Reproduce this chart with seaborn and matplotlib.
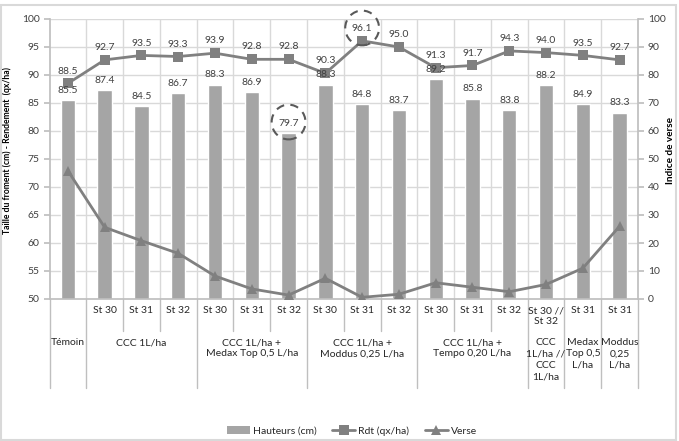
import matplotlib
matplotlib.use("Agg")
import matplotlib.pyplot as plt
from matplotlib.patches import Ellipse, Rectangle, Patch
from matplotlib.lines import Line2D
import numpy as np
import pandas as pd
import seaborn as sns

# === data ===
hauteurs = [85.5, 87.4, 84.5, 86.7, 88.3, 86.9, 79.7, 88.3, 84.8, 83.7, 89.2, 85.8, 83.8, 88.2, 84.9, 83.3]
rdt = [88.5, 92.7, 93.5, 93.3, 93.9, 92.8, 92.8, 90.3, 96.1, 95.0, 91.3, 91.7, 94.3, 94.0, 93.5, 92.7]
verse = [45.8, 25.6, 20.8, 16.3, 8.2, 3.6, 1.4, 7.4, 0.6, 1.7, 5.8, 4.2, 2.6, 5.2, 11.0, 26.0]
stades = ['', 'St 30', 'St 31', 'St 32', 'St 30', 'St 31', 'St 32', 'St 30', 'St 31', 'St 32',
          'St 30', 'St 31', 'St 32', 'St 30 //\nSt 32', 'St 31', 'St 31']
groupes = ['Témoin', 'CCC 1L/ha', 'CCC 1L/ha +\nMedax Top 0,5 L/ha', 'CCC 1L/ha +\nModdus 0,25 L/ha',
           'CCC 1L/ha +\nTempo 0,20 L/ha', 'CCC\n1L/ha //\nCCC\n1L/ha', 'Medax\nTop 0,5\nL/ha', 'Moddus\n0,25\nL/ha']
groupe_taille = [1, 3, 3, 3, 3, 1, 1, 1]
entourer = [(6, 'bar'), (8, 'rdt')]   # labels highlighted with dashed circle

df = pd.DataFrame({'pos': np.arange(len(hauteurs)), 'hauteurs': hauteurs, 'rdt': rdt, 'verse': verse})

sns.set_theme(style="white")
plt.rcParams['font.family'] = ['Lato', 'DejaVu Sans']

fig = plt.figure(figsize=(6.79, 4.41), dpi=100)
ax = fig.add_axes([49.5 / 679, 1 - 299 / 441, (638 - 49.5) / 679, 280 / 441])
ax2 = ax.twinx()

bar_c = '#a5a5a5'
line_c = '#808080'
txt_c = '#404040'
grid_c = '#d9d9d9'

sns.barplot(data=df, x='pos', y='hauteurs', color=bar_c, width=0.39, saturation=1, ax=ax, zorder=2)
sns.lineplot(data=df, x='pos', y='rdt', color=line_c, marker='s', markersize=6.5, markeredgewidth=0,
             linewidth=2, ax=ax, zorder=4)
sns.lineplot(data=df, x='pos', y='verse', color=line_c, marker='^', markersize=7, markeredgewidth=0,
             linewidth=2, ax=ax2, zorder=4)

n = len(hauteurs)
ax.set_xlim(-0.5, n - 0.5)
ax.set_ylim(50, 100)
ax.set_yticks(range(50, 101, 5))
ax2.set_ylim(0, 100)
ax2.set_yticks(range(0, 101, 10))
ax.set_xticks([])
ax2.set_xticks([])
ax.set_xlabel('')

# grid
for yv in range(55, 101, 5):
    ax.axhline(yv, color=grid_c, lw=1, zorder=0)
for xv in np.arange(0.5, n - 0.5, 1):
    ax.axvline(xv, color=grid_c, lw=1, zorder=0)

for a in (ax, ax2):
    for s in a.spines.values():
        s.set_visible(False)
ax.spines['left'].set_visible(True)
ax.spines['left'].set_color('#bfbfbf')
ax.spines['bottom'].set_visible(True)
ax.spines['bottom'].set_color('#bfbfbf')
ax2.spines['right'].set_visible(True)
ax2.spines['right'].set_color('#bfbfbf')
ax.tick_params(axis='y', length=4, color='#bfbfbf', labelsize=7.5, labelcolor=txt_c, pad=3, left=True)
ax2.tick_params(axis='y', length=4, color='#bfbfbf', labelsize=7.5, labelcolor=txt_c, pad=3, right=True)
ax2.set_zorder(ax.get_zorder() + 1)
ax.patch.set_visible(True)

ax.set_ylabel('Taille du froment (cm) - Rendement  (qx/ha)', fontsize=6.2, fontweight='bold', color='#000000')
ax2.set_ylabel('Indice de verse', fontsize=7.2, fontweight='bold', color='#000000', rotation=90)
ax.yaxis.set_label_coords((12 - 49.5) / 588.5, (299 - 151) / 280)
ax2.yaxis.set_label_coords((666 - 49.5) / 588.5, (299 - 150) / 280)

# data labels
for i, (h, r) in enumerate(zip(hauteurs, rdt)):
    ax.text(i, h + 0.9, f'{h:.1f}', ha='center', va='bottom', fontsize=7.5, color=txt_c, zorder=5)
    ax.text(i, r + 1.4, f'{r:.1f}', ha='center', va='bottom', fontsize=7.5, color=txt_c, zorder=5)

for i, kind in entourer:
    yc = hauteurs[i] + 1.9 if kind == 'bar' else rdt[i] + 2.3
    ax.add_patch(Ellipse((i, yc), 0.92, 6.2, fill=False, ls=(0, (4, 3)), lw=1.5,
                         edgecolor='#595959', clip_on=False, zorder=6))

# multi-level category axis
tr = ax.get_xaxis_transform()
h_ax = 280.0
y_row1 = (299 - 306) / h_ax
y_row2 = (299 - 338) / h_ax
y_short = (299 - 331) / h_ax
y_long = (299 - 388) / h_ax
for i, s in enumerate(stades):
    if s:
        ax.text(i, y_row1, s, transform=tr, ha='center', va='top', fontsize=7.5, color='#262626',
                linespacing=1.35)
start = 0
for g, size in zip(groupes, groupe_taille):
    ax.text(start + (size - 1) / 2, y_row2, g, transform=tr, ha='center', va='top', fontsize=7.5,
            color='#262626', linespacing=1.35)
    ax.add_line(Line2D([start - 0.5, start - 0.5], [0, y_long], transform=tr, color='#bfbfbf', lw=1,
                       clip_on=False))
    for k in range(1, size):
        ax.add_line(Line2D([start + k - 0.5] * 2, [0, y_short], transform=tr, color='#bfbfbf', lw=1,
                           clip_on=False))
    start += size
ax.add_line(Line2D([n - 0.5, n - 0.5], [0, y_long], transform=tr, color='#bfbfbf', lw=1, clip_on=False))

# legend
handles = [Patch(facecolor=bar_c, edgecolor='none'),
           Line2D([], [], color=line_c, lw=2, marker='s', markersize=6.5, markeredgewidth=0),
           Line2D([], [], color=line_c, lw=2, marker='^', markersize=7, markeredgewidth=0)]
fig.legend(handles, ['Hauteurs (cm)', 'Rdt (qx/ha)', 'Verse'], loc='center', ncol=3,
           bbox_to_anchor=(352 / 679, 1 - 431 / 441), frameon=False, fontsize=7.5,
           handlelength=2.2, columnspacing=1.5, handletextpad=0.3)

# outer border
fig.patches.append(Rectangle((1 / 679, 1 / 441), 675 / 679, 435 / 441, transform=fig.transFigure,
                             fill=False, edgecolor='#d9d9d9', lw=1.5))

fig.savefig('out.png', dpi=100)
